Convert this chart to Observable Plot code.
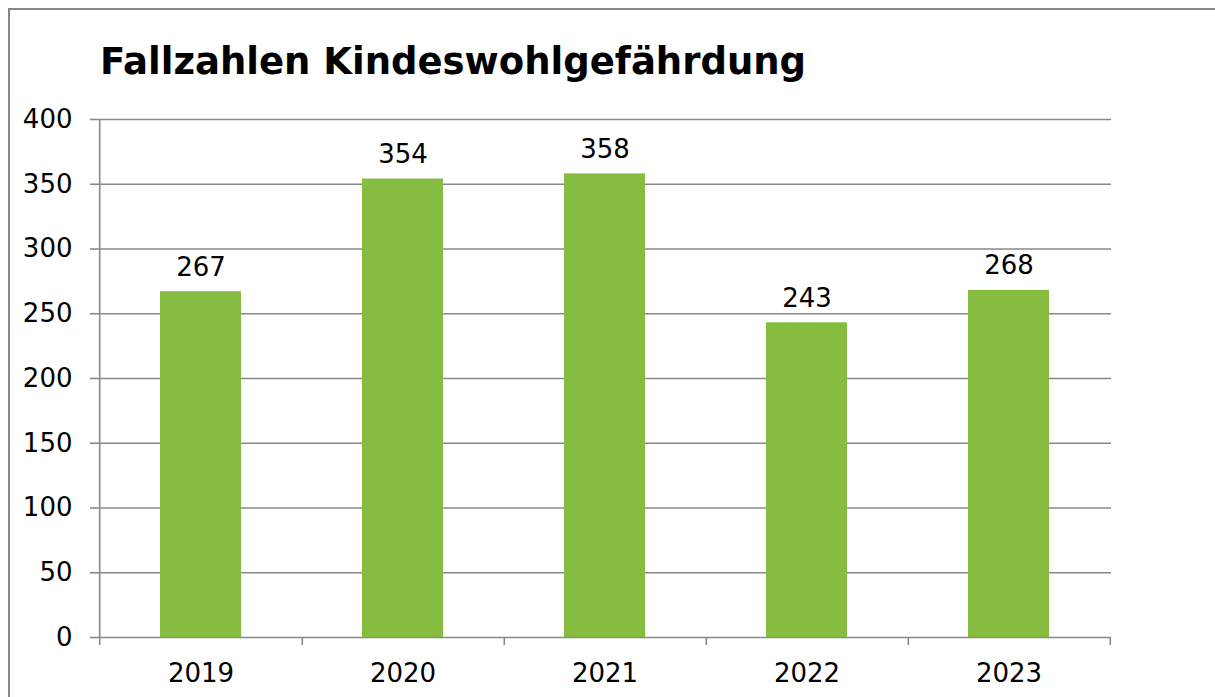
<!DOCTYPE html>
<html><head><meta charset="utf-8">
<script src="https://cdn.jsdelivr.net/npm/d3@7"></script>
<script src="https://cdn.jsdelivr.net/npm/@observablehq/plot@0.6"></script>
<style>
html,body{margin:0;padding:0;background:#fff;}
#wrap{position:relative;width:1215px;height:697px;overflow:hidden;}
#box{position:absolute;left:8px;top:8px;width:1300px;height:800px;border-left:2px solid #888;border-top:2px solid #888;box-sizing:border-box;}
#title{position:absolute;left:100px;top:40px;font-family:"DejaVu Sans",Verdana,sans-serif;font-weight:bold;font-size:37px;line-height:normal;color:#000;white-space:nowrap;}
#chart{position:absolute;left:0;top:0;}
</style></head>
<body><div id="wrap"><div id="box"></div><div id="chart"></div><div id="title">Fallzahlen Kindeswohlgefährdung</div></div>
<script>
const years = ["2019","2020","2021","2022","2023"];
const cases = [267, 354, 358, 243, 268];
const yTicks = [0,50,100,150,200,250,300,350,400];

const data = years.map((y,i)=>({year:y, value:cases[i]}));
const W = 1215, H = 697, ML = 98, MR = 104, MT = 119, MB = 60;
const step = (W - ML - MR) / years.length;
const tickBelow = -8 * 400 / (H - MT - MB);
const gray = "#888";

const plot = Plot.plot({
  width: W, height: H,
  marginLeft: ML, marginRight: MR, marginTop: MT, marginBottom: MB,
  style: {fontFamily: "'DejaVu Sans', Verdana, sans-serif", fontSize: "26px", color: "#000", background: "transparent", overflow: "visible"},
  x: {domain: years, paddingInner: 0.6, paddingOuter: 0.3, label: null},
  y: {domain: [0, 400], label: null, ticks: yTicks},
  marks: [
    Plot.gridY(yTicks, {stroke: gray, strokeOpacity: 1, strokeWidth: 1.6}),
    Plot.axisY(yTicks, {tickSize: 8, tickPadding: 18, stroke: gray, strokeWidth: 1.6, fontSize: 26, fill: "#000", label: null}),
    Plot.axisX({tickSize: 0, tickPadding: 26, fontSize: 26, fill: "#000", label: null}),
    Plot.barY(data, {x: "year", y: "value", fill: "#86BC3F"}),
    Plot.ruleX([years[0]], {x: d => d, y1: 400, y2: tickBelow, dx: -step/2, stroke: gray, strokeWidth: 1.6}),
    Plot.ruleX(years, {x: d => d, y1: 0, y2: tickBelow, dx: step/2, stroke: gray, strokeWidth: 1.6}),
    Plot.text(data, {x: "year", y: "value", text: d => String(d.value), dy: -16, lineAnchor: "bottom", fontSize: 26, fill: "#000"})
  ]
});
document.getElementById("chart").appendChild(plot);
</script>
</body></html>
